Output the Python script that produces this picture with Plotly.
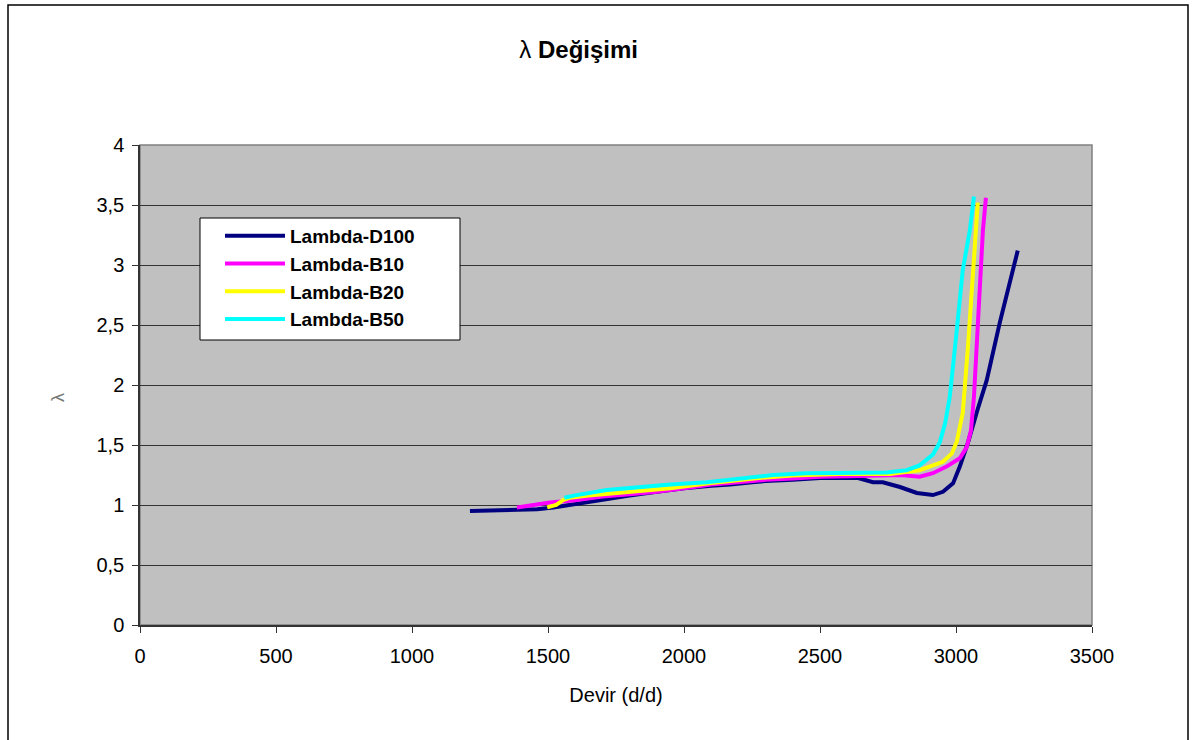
import plotly.graph_objects as go

# Engine speed (d/d) and lambda readings for each fuel blend
d100_rpm = [1213, 1300, 1400, 1460, 1520, 1600, 1700, 1800, 1900, 2000, 2100, 2170,
            2250, 2300, 2400, 2500, 2640, 2695, 2731, 2794, 2856, 2915, 2952, 2989,
            3014, 3044, 3080, 3113, 3161, 3198, 3227]
d100_lambda = [0.95, 0.955, 0.96, 0.965, 0.98, 1.01, 1.05, 1.08, 1.11, 1.14, 1.16, 1.17,
               1.19, 1.20, 1.21, 1.225, 1.225, 1.19, 1.19, 1.15, 1.10, 1.083, 1.11, 1.18,
               1.32, 1.52, 1.80, 2.04, 2.52, 2.875, 3.12]

b10_rpm = [1386, 1450, 1507, 1600, 1700, 1800, 1900, 2000, 2100, 2200, 2300, 2400,
           2500, 2600, 2700, 2794, 2866, 2915, 2965, 3014, 3039, 3055, 3066, 3077,
           3088, 3099, 3110]
b10_lambda = [0.98, 1.0, 1.02, 1.04, 1.07, 1.09, 1.11, 1.14, 1.17, 1.19, 1.21, 1.22,
              1.235, 1.24, 1.245, 1.25, 1.235, 1.265, 1.32, 1.39, 1.48, 1.62, 1.90, 2.32,
              2.875, 3.29, 3.56]

b20_rpm = [1497, 1530, 1555, 1580, 1650, 1750, 1838, 1950, 2084, 2200, 2300, 2400,
           2500, 2600, 2757, 2866, 2952, 2985, 3003, 3025, 3044, 3058, 3069, 3080]
b20_lambda = [0.98, 1.0, 1.04, 1.06, 1.08, 1.10, 1.11, 1.14, 1.18, 1.21, 1.23, 1.245,
              1.255, 1.26, 1.258, 1.29, 1.36, 1.43, 1.53, 1.77, 2.32, 2.73, 3.15, 3.52]

b50_rpm = [1560, 1600, 1716, 1838, 1950, 2084, 2200, 2327, 2450, 2600, 2745, 2818,
           2866, 2915, 2940, 2960, 2977, 3003, 3025, 3051, 3066]
b50_lambda = [1.06, 1.08, 1.125, 1.15, 1.17, 1.19, 1.22, 1.25, 1.265, 1.27, 1.27, 1.29,
              1.33, 1.42, 1.52, 1.68, 1.90, 2.46, 2.96, 3.29, 3.57]

series_names = ["Lambda-D100", "Lambda-B10", "Lambda-B20", "Lambda-B50"]
series_colors = ["#000080", "#FF00FF", "#FFFF00", "#00FFFF"]

x_ticks = [0, 500, 1000, 1500, 2000, 2500, 3000, 3500]
y_ticks = [0, 0.5, 1, 1.5, 2, 2.5, 3, 3.5, 4]
y_tick_text = ["0", "0,5", "1", "1,5", "2", "2,5", "3", "3,5", "4"]

FONT = "Arial, Liberation Sans, sans-serif"

fig = go.Figure()
for name, color, xs, ys in zip(
        series_names, series_colors,
        [d100_rpm, b10_rpm, b20_rpm, b50_rpm],
        [d100_lambda, b10_lambda, b20_lambda, b50_lambda]):
    fig.add_trace(go.Scatter(
        x=xs, y=ys, mode="lines", name=name, legendgroup=name,
        line=dict(color=color, width=4),
    ))

W, H = 1195, 740
ML, MR, MT, MB = 140, 103, 145, 115
pw, ph = W - ML - MR, H - MT - MB


def px_x(p):
    return (p - ML) / pw


def px_y(p):
    return (H - MB - p) / ph


fig.update_layout(
    width=W, height=H,
    margin=dict(l=ML, r=MR, t=MT, b=MB),
    paper_bgcolor="white",
    plot_bgcolor="#C0C0C0",
    font=dict(family=FONT, size=19, color="black"),
    title=dict(text="λ <b>Değişimi</b>", x=px_x(601), xanchor="center",
               y=1 - 50 / H, yanchor="middle",
               font=dict(family=FONT, size=24, color="black")),
    xaxis=dict(range=[0, 3500], tickvals=x_ticks, ticks="outside", ticklen=6,
               tickcolor="#333", showgrid=False, zeroline=False,
               showline=True, linecolor="#333", linewidth=1.5,
               tickfont=dict(size=20), ticklabelstandoff=6,
               title=dict(text="Devir (d/d)", standoff=22,
                          font=dict(size=20))),
    yaxis=dict(range=[0, 4], tickvals=y_ticks, ticktext=y_tick_text,
               ticks="outside", ticklen=6, tickcolor="#333",
               tickfont=dict(size=20), ticklabelstandoff=4,
               showgrid=True, gridcolor="#333", gridwidth=1.2, zeroline=False,
               showline=True, linecolor="#333", linewidth=1.5),
    legend=dict(x=px_x(200), y=px_y(217), xanchor="left", yanchor="top",
                bgcolor="rgba(0,0,0,0)", borderwidth=0,
                font=dict(family=FONT, size=19, color="black", weight="bold"),
                tracegroupgap=0, itemwidth=60, indentation=20),
    showlegend=True,
)

# white box with a black frame behind the legend entries
fig.add_shape(type="rect", xref="paper", yref="paper",
              x0=px_x(200), x1=px_x(460), y0=px_y(340), y1=px_y(218),
              fillcolor="white", line=dict(color="black", width=1), layer="above")

# y-axis label: the lambda symbol set sideways, thin and grey
fig.add_annotation(text="λ", xref="paper", yref="paper",
                   x=px_x(58), y=px_y(398), xanchor="center", yanchor="middle",
                   showarrow=False, textangle=-90,
                   font=dict(family=FONT, size=18, color="#777"))

# plot-area frame (top and right edges) and the outer chart border
fig.add_shape(type="rect", xref="paper", yref="paper", x0=0, x1=1, y0=0, y1=1,
              line=dict(color="#808080", width=1.5), layer="below")
fig.add_shape(type="rect", xref="paper", yref="paper",
              x0=px_x(8), x1=px_x(1188), y0=px_y(760), y1=px_y(5),
              line=dict(color="black", width=1.5))

fig.write_html("out.html")
